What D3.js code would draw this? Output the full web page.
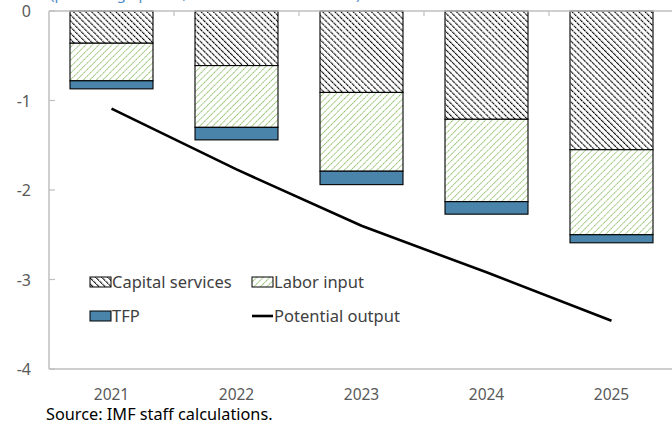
<!DOCTYPE html>
<html><head><meta charset="utf-8">
<script src="https://cdn.jsdelivr.net/npm/d3@7"></script>
<style>
body{margin:0;background:#fff;}
svg{display:block;font-family:"Noto Sans","Open Sans",sans-serif;}
</style></head>
<body>
<svg id="chart" width="672" height="425"></svg>
<script>
const years = ["2021","2022","2023","2024","2025"];
const capitalServices = [-0.36, -0.61, -0.91, -1.21, -1.55];
const laborInput = [-0.42, -0.69, -0.88, -0.92, -0.95];
const tfp = [-0.09, -0.14, -0.15, -0.14, -0.09];
const potentialOutput = [-1.09, -1.77, -2.40, -2.92, -3.46];
const yTicks = [0, -1, -2, -3, -4];
const seriesNames = ["Capital services", "Labor input", "TFP"];

const svg = d3.select("#chart");
const defs = svg.append("defs");

// hatch patterns
const pCap = defs.append("pattern").attr("id","capHatch").attr("patternUnits","userSpaceOnUse")
  .attr("width",4.3).attr("height",4.3).attr("patternTransform","rotate(-45)");
pCap.append("rect").attr("width",4.3).attr("height",4.3).attr("fill","#fff");
pCap.append("line").attr("x1",0).attr("y1",0).attr("x2",0).attr("y2",4.3)
  .attr("stroke","#000").attr("stroke-width",2.2).attr("stroke-dasharray","1.8 0.5");
const pLab = defs.append("pattern").attr("id","labHatch").attr("patternUnits","userSpaceOnUse")
  .attr("width",4.6).attr("height",4.6).attr("patternTransform","rotate(45)");
pLab.append("rect").attr("width",4.6).attr("height",4.6).attr("fill","#fff");
pLab.append("line").attr("x1",0).attr("y1",0).attr("x2",0).attr("y2",4.6)
  .attr("stroke","#8CBD68").attr("stroke-width",1.7).attr("stroke-dasharray","1.8 0.5");

const fills = ["url(#capHatch)", "url(#labHatch)", "#4A84AA"];

const x = d3.scaleBand().domain(years).range([49, 674]).paddingInner(0.336).paddingOuter(0.168);
const y = d3.scaleLinear().domain([-4, 0]).range([369, 11]);

// subtitle (cut off at top of the picture, as in the reference)
svg.append("text").attr("x",50).attr("y",-1).attr("fill","#4C8BC9").attr("font-size",15)
  .text("(percentage points, deviation from baseline)");

// stacked data
const rows = years.map((yr,i)=>({year:yr, "Capital services":capitalServices[i], "Labor input":laborInput[i], "TFP":tfp[i]}));
const stack = d3.stack().keys(seriesNames).offset(d3.stackOffsetDiverging)(rows);

stack.forEach((s,si)=>{
  svg.append("g").selectAll("rect").data(s).join("rect")
    .attr("x", d=>x(d.data.year))
    .attr("width", x.bandwidth())
    .attr("y", d=>y(Math.max(d[0],d[1])))
    .attr("height", d=>Math.abs(y(d[0])-y(d[1])))
    .attr("fill", fills[si])
    .attr("stroke","#000").attr("stroke-width",1.1);
});

// axes / frame
const axisColor = "#BFBFBF";
svg.append("line").attr("x1",49).attr("x2",672).attr("y1",y(0)).attr("y2",y(0)).attr("stroke",axisColor).attr("stroke-width",1.5);
svg.append("line").attr("x1",49).attr("x2",672).attr("y1",y(-4)).attr("y2",y(-4)).attr("stroke",axisColor).attr("stroke-width",1.5);
svg.append("line").attr("x1",49).attr("x2",49).attr("y1",y(0)).attr("y2",y(-4)).attr("stroke",axisColor).attr("stroke-width",1.5);
// category boundary ticks on zero line
const bounds = years.map(yr=>x(yr) - x.step()*x.paddingOuter()).slice(1);
svg.append("g").selectAll("line").data(bounds).join("line")
  .attr("x1",d=>d).attr("x2",d=>d).attr("y1",y(0)).attr("y2",y(0)+5)
  .attr("stroke",axisColor).attr("stroke-width",1.2);
// y ticks
svg.append("g").selectAll("line").data(yTicks).join("line")
  .attr("x1",49).attr("x2",55).attr("y1",d=>y(d)).attr("y2",d=>y(d))
  .attr("stroke",axisColor).attr("stroke-width",1.2);
svg.append("g").selectAll("text").data(yTicks).join("text")
  .attr("x",31).attr("y",d=>y(d)+6).attr("text-anchor","end")
  .attr("fill","#595959").attr("font-size",16)
  .text(d=>d===0?"0":"-"+Math.abs(d));
// x labels
svg.append("g").selectAll("text").data(years).join("text")
  .attr("x",d=>x(d)+x.bandwidth()/2).attr("y",400).attr("text-anchor","middle")
  .attr("fill","#595959").attr("font-size",15.5).text(d=>d);

// line
const line = d3.line().x((d,i)=>x(years[i])+x.bandwidth()/2).y(d=>y(d));
svg.append("path").datum(potentialOutput).attr("d",line).attr("fill","none")
  .attr("stroke","#000").attr("stroke-width",2.6);

// legend
const legItems = [
  {name:"Capital services", type:"rect", fill:fills[0], x:90, y:282},
  {name:"Labor input", type:"rect", fill:fills[1], x:252, y:282},
  {name:"TFP", type:"rect", fill:fills[2], x:90, y:316},
  {name:"Potential output", type:"line", x:252, y:316}
];
const lg = svg.append("g");
legItems.forEach(it=>{
  if(it.type==="rect"){
    lg.append("rect").attr("x",it.x).attr("y",it.y-5).attr("width",21).attr("height",10)
      .attr("fill",it.fill).attr("stroke","#000").attr("stroke-width",1);
  } else {
    lg.append("line").attr("x1",it.x).attr("x2",it.x+21).attr("y1",it.y).attr("y2",it.y)
      .attr("stroke","#000").attr("stroke-width",2.6);
  }
  lg.append("text").attr("x",it.x+22).attr("y",it.y+6).attr("fill","#404040")
    .attr("font-size",16.5).text(it.name);
});

// source
svg.append("text").attr("x",46).attr("y",420).attr("fill","#000").attr("font-size",16.3)
  .text("Source: IMF staff calculations.");
</script>
</body></html>
